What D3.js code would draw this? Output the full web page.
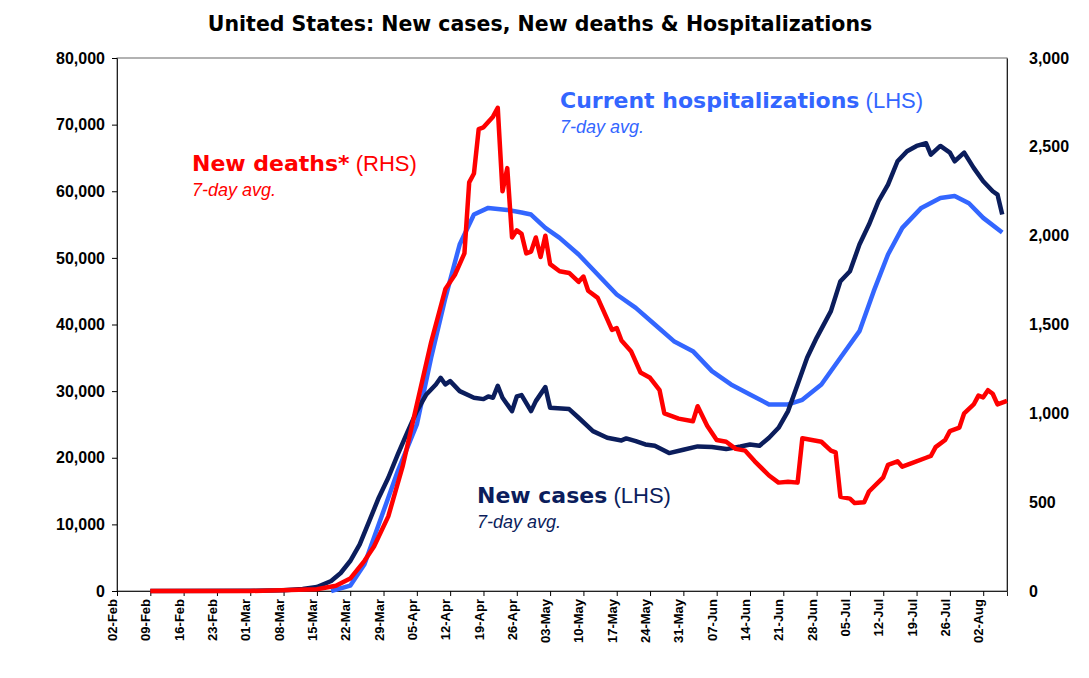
<!DOCTYPE html>
<html><head><meta charset="utf-8">
<script src="https://cdn.jsdelivr.net/npm/d3@7"></script>
<style>body{margin:0;background:#fff;font-family:"Liberation Sans",Arial,sans-serif}</style>
</head><body>
<script>
// 7-day averages, [date, value]
const casesData = [["2020-02-09",0],["2020-03-01",20],["2020-03-08",100],["2020-03-12",300],["2020-03-15",600],["2020-03-18",1500],["2020-03-20",2700],["2020-03-22",4500],["2020-03-24",7000],["2020-03-26",10500],["2020-03-28",14000],["2020-03-30",17000],["2020-04-01",20500],["2020-04-03",23800],["2020-04-05",27000],["2020-04-07",29500],["2020-04-09",31000],["2020-04-10",32000],["2020-04-11",31000],["2020-04-12",31500],["2020-04-14",30000],["2020-04-17",29000],["2020-04-19",28800],["2020-04-20",29200],["2020-04-21",29000],["2020-04-22",30800],["2020-04-23",29000],["2020-04-25",27000],["2020-04-26",29200],["2020-04-27",29400],["2020-04-29",27000],["2020-04-30",28500],["2020-05-02",30600],["2020-05-03",27500],["2020-05-07",27300],["2020-05-09",26000],["2020-05-12",24000],["2020-05-15",23000],["2020-05-18",22600],["2020-05-19",22900],["2020-05-21",22500],["2020-05-23",22000],["2020-05-25",21800],["2020-05-28",20700],["2020-05-31",21200],["2020-06-03",21700],["2020-06-06",21600],["2020-06-09",21300],["2020-06-12",21700],["2020-06-14",22000],["2020-06-16",21800],["2020-06-18",23000],["2020-06-20",24500],["2020-06-22",27000],["2020-06-24",31000],["2020-06-26",35000],["2020-06-28",38000],["2020-07-01",42000],["2020-07-03",46500],["2020-07-05",48000],["2020-07-07",52000],["2020-07-09",55000],["2020-07-11",58500],["2020-07-13",61000],["2020-07-15",64500],["2020-07-17",66000],["2020-07-19",66800],["2020-07-21",67200],["2020-07-22",65500],["2020-07-24",66800],["2020-07-26",65800],["2020-07-27",64500],["2020-07-29",65800],["2020-07-31",63500],["2020-08-02",61500],["2020-08-04",60000],["2020-08-05",59500],["2020-08-06",56500]];
const hospData = [["2020-03-18",0],["2020-03-22",800],["2020-03-25",4000],["2020-03-29",12000],["2020-04-01",18000],["2020-04-05",25000],["2020-04-08",35000],["2020-04-11",44000],["2020-04-14",52000],["2020-04-17",56500],["2020-04-20",57500],["2020-04-24",57200],["2020-04-27",56800],["2020-04-29",56500],["2020-05-02",54500],["2020-05-05",53000],["2020-05-09",50500],["2020-05-13",47500],["2020-05-17",44500],["2020-05-21",42500],["2020-05-25",40000],["2020-05-29",37500],["2020-06-02",36000],["2020-06-06",33000],["2020-06-10",31000],["2020-06-14",29500],["2020-06-18",28000],["2020-06-22",28000],["2020-06-25",28700],["2020-06-29",31000],["2020-07-03",35000],["2020-07-07",39000],["2020-07-10",45000],["2020-07-13",50500],["2020-07-16",54500],["2020-07-20",57500],["2020-07-24",59000],["2020-07-27",59300],["2020-07-30",58200],["2020-08-02",56000],["2020-08-06",53800]];
const deathsData = [["2020-02-09",0],["2020-03-01",0],["2020-03-15",10],["2020-03-19",30],["2020-03-22",70],["2020-03-25",170],["2020-03-27",250],["2020-03-30",420],["2020-04-02",700],["2020-04-05",1050],["2020-04-08",1400],["2020-04-11",1700],["2020-04-13",1780],["2020-04-15",1900],["2020-04-16",2300],["2020-04-17",2350],["2020-04-18",2600],["2020-04-19",2610],["2020-04-21",2670],["2020-04-22",2720],["2020-04-23",2250],["2020-04-24",2380],["2020-04-25",1990],["2020-04-26",2030],["2020-04-27",2010],["2020-04-28",1900],["2020-04-29",1910],["2020-04-30",1990],["2020-05-01",1880],["2020-05-02",2000],["2020-05-03",1840],["2020-05-05",1800],["2020-05-07",1790],["2020-05-09",1740],["2020-05-10",1770],["2020-05-11",1690],["2020-05-13",1650],["2020-05-15",1530],["2020-05-16",1470],["2020-05-17",1480],["2020-05-18",1410],["2020-05-20",1350],["2020-05-22",1230],["2020-05-24",1200],["2020-05-26",1130],["2020-05-27",1000],["2020-05-30",970],["2020-06-02",955],["2020-06-03",1040],["2020-06-05",930],["2020-06-07",850],["2020-06-09",840],["2020-06-11",800],["2020-06-13",790],["2020-06-15",730],["2020-06-18",650],["2020-06-20",610],["2020-06-22",615],["2020-06-24",610],["2020-06-25",860],["2020-06-29",840],["2020-07-01",790],["2020-07-02",780],["2020-07-03",530],["2020-07-05",520],["2020-07-06",495],["2020-07-08",500],["2020-07-09",560],["2020-07-12",640],["2020-07-13",710],["2020-07-15",730],["2020-07-16",700],["2020-07-18",720],["2020-07-21",750],["2020-07-22",760],["2020-07-23",810],["2020-07-25",850],["2020-07-26",900],["2020-07-28",920],["2020-07-29",1000],["2020-07-31",1050],["2020-08-01",1100],["2020-08-02",1090],["2020-08-03",1130],["2020-08-04",1110],["2020-08-05",1050],["2020-08-07",1070]];
const leftTicks = [0,10000,20000,30000,40000,50000,60000,70000,80000];
const rightTicks = [0,500,1000,1500,2000,2500,3000];

const W = 1089, H = 678;
const m = {l:117, r:1007, t:58, b:591};
const parse = d3.timeParse("%Y-%m-%d");
const svg = d3.select("body").append("svg").attr("width", W).attr("height", H);
const boldFont = "'DejaVu Sans',sans-serif";

const x = d3.scaleTime().domain([parse("2020-02-02"), parse("2020-08-07")]).range([m.l, m.r]);
const yL = d3.scaleLinear().domain([0,80000]).range([m.b, m.t]);
const yR = d3.scaleLinear().domain([0,3000]).range([m.b, m.t]);

svg.append("text").attr("x", 540).attr("y", 31).attr("text-anchor","middle")
  .style("font-family", boldFont).style("font-weight","bold").style("font-size","20.5px")
  .text("United States: New cases, New deaths & Hospitalizations");

svg.append("rect").attr("x", m.l).attr("y", m.t).attr("width", m.r-m.l).attr("height", m.b-m.t)
  .attr("fill","none").attr("stroke","#666").attr("stroke-width",1);

const fmt = d3.format(",");
svg.append("g").attr("transform",`translate(${m.l},0)`)
  .call(d3.axisLeft(yL).tickValues(leftTicks).tickFormat(fmt).tickSize(5).tickPadding(7))
  .call(g => g.select(".domain").attr("stroke","#222"))
  .selectAll("text").style("font-size","16px").style("font-weight","bold").attr("fill","#000");
svg.append("g").attr("transform",`translate(${m.r},0)`)
  .call(d3.axisRight(yR).tickValues(rightTicks).tickFormat(fmt).tickSize(0).tickPadding(22))
  .call(g => g.select(".domain").attr("stroke","#222"))
  .selectAll("text").style("font-size","16px").style("font-weight","bold").attr("fill","#000");

const weeks = d3.timeWeek.range(parse("2020-02-02"), parse("2020-08-03"));
svg.append("g").attr("transform",`translate(0,${m.b})`)
  .call(d3.axisBottom(x).tickValues(weeks).tickFormat(d3.timeFormat("%d-%b")).tickSize(5))
  .call(g => g.select(".domain").attr("stroke","#222"))
  .selectAll("text").attr("transform","rotate(-90)").attr("text-anchor","end")
  .attr("x",-8).attr("y",-5).attr("dy","0.35em")
  .style("font-size","13px").style("font-weight","bold").attr("fill","#000");

function draw(data, y, color) {
  svg.append("path").datum(data.map(d => [parse(d[0]), d[1]]))
    .attr("fill","none").attr("stroke",color).attr("stroke-width",4.5).attr("stroke-linejoin","round")
    .attr("d", d3.line().x(d => x(d[0])).y(d => y(d[1])));
}
draw(hospData, yL, "#3366ff");
draw(casesData, yL, "#0b1d5c");
draw(deathsData, yR, "#ff0000");

function label(xp, yp, bold, rest, color) {
  const t = svg.append("text").attr("x", xp).attr("y", yp).attr("fill", color).style("font-size","22px");
  t.append("tspan").style("font-family", boldFont).style("font-weight","bold").text(bold);
  t.append("tspan").text(" " + rest);
  svg.append("text").attr("x", xp).attr("y", yp + 25).attr("fill", color)
    .style("font-size","18px").style("font-style","italic").text("7-day avg.");
}
label(560, 108, "Current hospitalizations", "(LHS)", "#3366ff");
label(192, 171, "New deaths*", "(RHS)", "#ff0000");
label(477, 503, "New cases", "(LHS)", "#0b1d5c");
</script>
</body></html>
